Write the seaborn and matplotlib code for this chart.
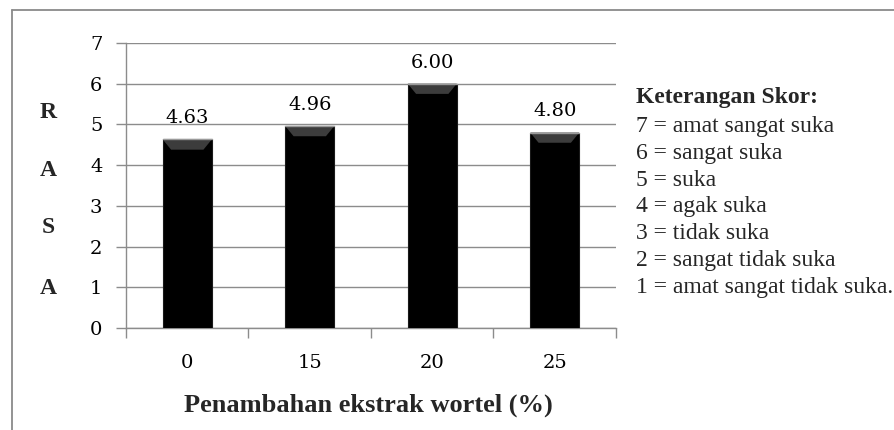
import matplotlib
matplotlib.use("Agg")
import matplotlib.pyplot as plt
from matplotlib.patches import Polygon
from matplotlib.lines import Line2D
import seaborn as sns
import pandas as pd

# Data
categories = ["0", "15", "20", "25"]
scores = [4.63, 4.96, 6.00, 4.80]
y_ticks = [0, 1, 2, 3, 4, 5, 6, 7]
ylabel_letters = ["R", "A", "S", "A"]
legend_title = "Keterangan Skor:"
legend_lines = [
    "7 = amat sangat suka",
    "6 = sangat suka",
    "5 = suka",
    "4 = agak suka",
    "3 = tidak suka",
    "2 = sangat tidak suka",
    "1 = amat sangat tidak suka.",
]
xlabel = "Penambahan ekstrak wortel (%)"

df = pd.DataFrame({"kategori": categories, "skor": scores})

sns.set_theme(style="white")
plt.rcParams["font.family"] = ["DejaVu Serif"]

W, H = 895, 430
fig = plt.figure(figsize=(W / 100, H / 100), dpi=100)
ax = fig.add_axes([126 / W, 1 - 328 / H, (616 - 126) / W, (328 - 43) / H])

grid_col = "#8c8c8c"
sns.barplot(data=df, x="kategori", y="skor", color="black", width=0.4,
            saturation=1, ax=ax, zorder=3, edgecolor="#1a1a1a", linewidth=0.8)

ax.set_ylim(0, 7)
ax.set_xlim(-0.5, len(categories) - 0.5)
ax.set_yticks(y_ticks)
ax.set_yticklabels([str(t) for t in y_ticks], fontsize=14, color="black")
ax.set_xticks([i - 0.5 for i in range(len(categories) + 1)], minor=False)
ax.set_xticklabels([""] * (len(categories) + 1))
ax.set_xticks(range(len(categories)), minor=True)
ax.set_xticklabels(categories, minor=True, fontsize=14, color="black")
ax.tick_params(axis="x", which="major", length=7, width=1, color=grid_col,
               direction="out", bottom=True)
ax.tick_params(axis="x", which="minor", length=0, pad=19)
ax.tick_params(axis="y", length=7, width=1, color=grid_col, direction="out",
               left=True, pad=10)
ax.yaxis.grid(True, color=grid_col, linewidth=1, zorder=0)
ax.xaxis.grid(False)
ax.set_axisbelow(True)
for side in ["top", "right"]:
    ax.spines[side].set_visible(False)
for side in ["left", "bottom"]:
    ax.spines[side].set_color(grid_col)
    ax.spines[side].set_linewidth(1)
ax.set_xlabel("")
ax.set_ylabel("")

# Bevelled tops and value labels
bev_h = 0.25
for patch, val in zip(ax.patches, scores):
    x0 = patch.get_x()
    w = patch.get_width()
    inset = w * 0.17
    top = patch.get_height()
    poly = Polygon([[x0, top], [x0 + w, top], [x0 + w - inset, top - bev_h],
                    [x0 + inset, top - bev_h]], closed=True,
                   facecolor="#3c3c3c", edgecolor="none", zorder=4)
    ax.add_patch(poly)
    ax.plot([x0, x0 + w], [top, top], color="#9a9a9a", lw=1.0, zorder=5)
    ax.text(x0 + w / 2, top + 0.3, f"{val:.2f}", ha="center", va="bottom",
            fontsize=14, color="black", zorder=6)

# Vertical letters for the y axis title
for letter, yp in zip(ylabel_letters, [113, 170, 228, 289]):
    fig.text(48 / W, 1 - yp / H, letter, ha="center", va="center",
             fontsize=17, fontweight="bold", family="Liberation Serif")

fig.text(368 / W, 1 - 405 / H, xlabel, ha="center", va="center",
         fontsize=19, fontweight="bold", family="Liberation Serif")

# Score legend
fig.text(636 / W, 1 - 98 / H, legend_title, ha="left", va="center",
         fontsize=17, fontweight="bold", family="Liberation Serif")
for i, line in enumerate(legend_lines):
    fig.text(636 / W, 1 - (126.5 + 26.8 * i) / H, line, ha="left", va="center",
             fontsize=17, family="Liberation Serif")

# Chart frame
fig.add_artist(Line2D([12 / W, 12 / W], [0, 1 - 10 / H], color="#8a8a8a",
                      lw=1.3, transform=fig.transFigure))
fig.add_artist(Line2D([12 / W, 1], [1 - 10 / H, 1 - 10 / H], color="#8a8a8a",
                      lw=1.3, transform=fig.transFigure))

fig.savefig("out.png", dpi=100, facecolor="white")
